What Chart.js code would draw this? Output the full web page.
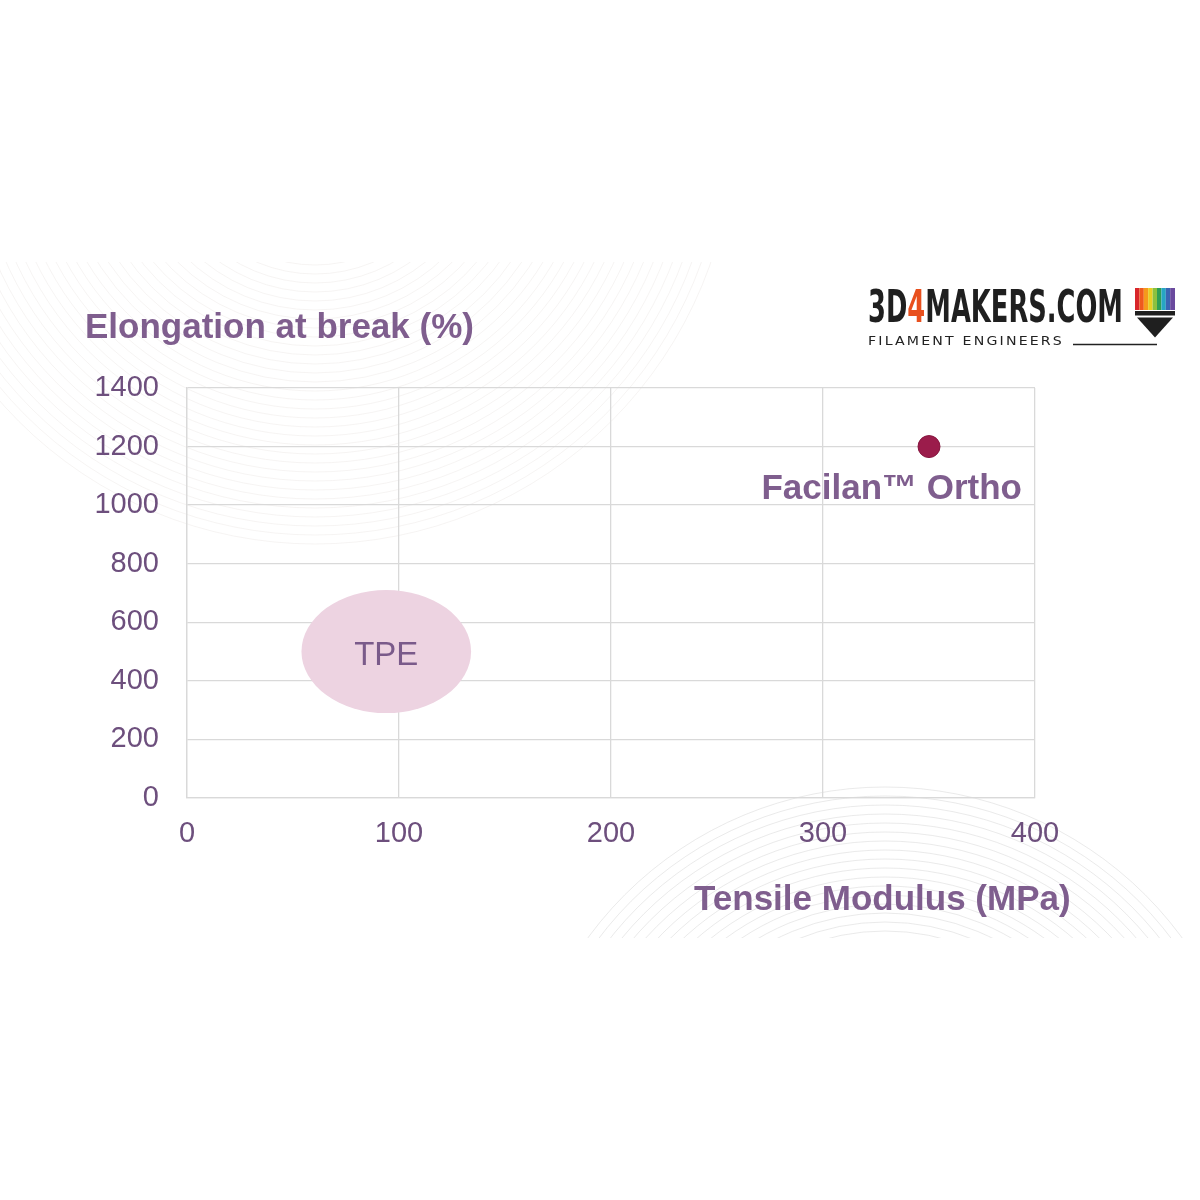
<!DOCTYPE html>
<html>
<head>
<meta charset="utf-8">
<script src="https://cdn.jsdelivr.net/npm/chart.js@4"></script>
<style>
  html, body { margin: 0; padding: 0; background: #ffffff; }
  #wrap { position: relative; width: 1200px; height: 1200px; overflow: hidden; }
  #bg { position: absolute; left: 0; top: 0; }
  #chart { position: absolute; left: 0; top: 0; }
  .title { position: absolute; font-family: "Liberation Sans", Arial, sans-serif; font-weight: bold;
           font-size: 35px; color: #7f5e8e; white-space: nowrap; line-height: 1; }
  #logo { position: absolute; left: 860px; top: 280px; }
</style>
</head>
<body>
<div id="wrap">
  <canvas id="bg" width="1200" height="1200"></canvas>
  <canvas id="chart" width="1200" height="1200"></canvas>
  <div class="title" id="ytitle" style="left:85px; top:308px;">Elongation at break (%)</div>
  <div class="title" id="xtitle" style="left:694px; top:880px;">Tensile Modulus (MPa)</div>
  <svg id="logo" width="330" height="75" viewBox="860 280 330 75">
    <text x="868" y="322" font-family="DejaVu Sans Condensed, DejaVu Sans" font-weight="bold" font-size="44"
          textLength="255" lengthAdjust="spacingAndGlyphs" fill="#1f1f1f">3D<tspan fill="#e8501e">4</tspan>MAKERS.COM</text>
    <text x="868" y="345" font-family="DejaVu Sans" font-size="13" textLength="196" lengthAdjust="spacingAndGlyphs" fill="#222" letter-spacing="2">FILAMENT ENGINEERS</text>
    <line x1="1073" y1="344.5" x2="1157" y2="344.5" stroke="#222" stroke-width="1.3"/>
    <rect x="1135" y="288" width="4.4" height="22" fill="#d8262b"/>
    <rect x="1139.4" y="288" width="4.4" height="22" fill="#ef5a1e"/>
    <rect x="1143.8" y="288" width="4.4" height="22" fill="#f59a1c"/>
    <rect x="1148.2" y="288" width="4.4" height="22" fill="#e9cf22"/>
    <rect x="1152.6" y="288" width="4.4" height="22" fill="#8cc13f"/>
    <rect x="1157" y="288" width="4.4" height="22" fill="#2e9e55"/>
    <rect x="1161.4" y="288" width="4.4" height="22" fill="#26a6c4"/>
    <rect x="1165.8" y="288" width="4.4" height="22" fill="#3a64b3"/>
    <rect x="1170.2" y="288" width="4.8" height="22" fill="#6a4a9e"/>
    <rect x="1135" y="311" width="40" height="4.5" fill="#1f1f1f"/>
    <polygon points="1137,317.5 1173,317.5 1155,337.5" fill="#1f1f1f"/>
  </svg>
</div>
<script>
// ---- data ----
const xTickValues = [0, 100, 200, 300, 400];
const yTickValues = [0, 200, 400, 600, 800, 1000, 1200, 1400];
const pointNames = ['Facilan™ Ortho'];
const pointX = [350];
const pointY = [1200];
const regionNames = ['TPE'];
const regionX = [94];
const regionY = [500];
const regionHalfWidth = [40];
const regionHalfHeight = [210];

// ---- decorative background arcs ----
(function drawBg() {
  const c = document.getElementById('bg').getContext('2d');
  c.save();
  c.beginPath();
  c.rect(0, 262, 1200, 676);
  c.clip();
  c.lineWidth = 1;
  c.strokeStyle = 'rgba(205,195,190,0.18)';
  for (let r = 140; r <= 420; r += 9) {
    c.beginPath();
    c.arc(315, 125, r, 0, Math.PI * 2);
    c.stroke();
  }
  c.strokeStyle = 'rgba(200,200,200,0.38)';
  for (let r = 215; r <= 370; r += 9) {
    c.beginPath();
    c.arc(885, 1155, r, 0, Math.PI * 2);
    c.stroke();
  }
  c.restore();
})();

const labelColor = '#6d4f7d';
const gridColor = '#d9d9d9';
const tickFont = { family: '"Liberation Sans", Arial, sans-serif', size: 29 };

const regionPlugin = {
  id: 'regions',
  beforeDatasetsDraw(chart) {
    const { ctx, scales: { x, y } } = chart;
    ctx.save();
    regionNames.forEach((name, i) => {
      const cx = x.getPixelForValue(regionX[i]);
      const cy = y.getPixelForValue(regionY[i]);
      const rx = Math.abs(x.getPixelForValue(regionX[i] + regionHalfWidth[i]) - cx);
      const ry = Math.abs(y.getPixelForValue(regionY[i] + regionHalfHeight[i]) - cy);
      ctx.beginPath();
      ctx.ellipse(cx, cy, rx, ry, 0, 0, Math.PI * 2);
      ctx.fillStyle = '#edd3e1';
      ctx.fill();
      ctx.fillStyle = '#7a5a8a';
      ctx.font = '33px "Liberation Sans", Arial, sans-serif';
      ctx.textAlign = 'center';
      ctx.textBaseline = 'alphabetic';
      ctx.fillText(name, cx, cy + 13);
    });
    ctx.restore();
  },
  afterDatasetsDraw(chart) {
    const { ctx, scales: { x, y } } = chart;
    ctx.save();
    pointNames.forEach((name, i) => {
      const px = x.getPixelForValue(pointX[i]);
      const py = y.getPixelForValue(pointY[i]);
      ctx.fillStyle = '#7f5e8e';
      ctx.font = 'bold 35px "Liberation Sans", Arial, sans-serif';
      ctx.textAlign = 'right';
      ctx.textBaseline = 'alphabetic';
      ctx.fillText(name, px + 93, py + 52);
    });
    ctx.restore();
  }
};

new Chart(document.getElementById('chart'), {
  type: 'scatter',
  data: {
    datasets: [{
      data: pointX.map((v, i) => ({ x: v, y: pointY[i] })),
      pointRadius: 11,
      pointHoverRadius: 11,
      backgroundColor: '#9b1c4b',
      borderColor: '#86163f',
      borderWidth: 1
    }]
  },
  options: {
    responsive: false,
    animation: false,
    events: [],
    layout: { padding: { top: 388, right: 165, left: 0, bottom: 0 } },
    plugins: { legend: { display: false }, tooltip: { enabled: false } },
    scales: {
      x: {
        type: 'linear',
        min: xTickValues[0],
        max: xTickValues[xTickValues.length - 1],
        afterBuildTicks: s => { s.ticks = xTickValues.map(v => ({ value: v })); },
        afterFit: s => { s.height = 402; },
        ticks: {
          color: labelColor,
          font: tickFont,
          padding: 19,
          maxRotation: 0,
          callback: v => String(v)
        },
        grid: { color: gridColor, lineWidth: 1.3, drawTicks: false },
        border: { color: gridColor, width: 1.3 }
      },
      y: {
        type: 'linear',
        min: yTickValues[0],
        max: yTickValues[yTickValues.length - 1],
        afterBuildTicks: s => { s.ticks = yTickValues.map(v => ({ value: v })); },
        afterFit: s => { s.width = 187; },
        ticks: {
          color: labelColor,
          font: tickFont,
          padding: 28,
          callback: v => String(v)
        },
        grid: { color: gridColor, lineWidth: 1.3, drawTicks: false },
        border: { color: gridColor, width: 1.3 }
      }
    }
  },
  plugins: [regionPlugin]
});
</script>
</body>
</html>
